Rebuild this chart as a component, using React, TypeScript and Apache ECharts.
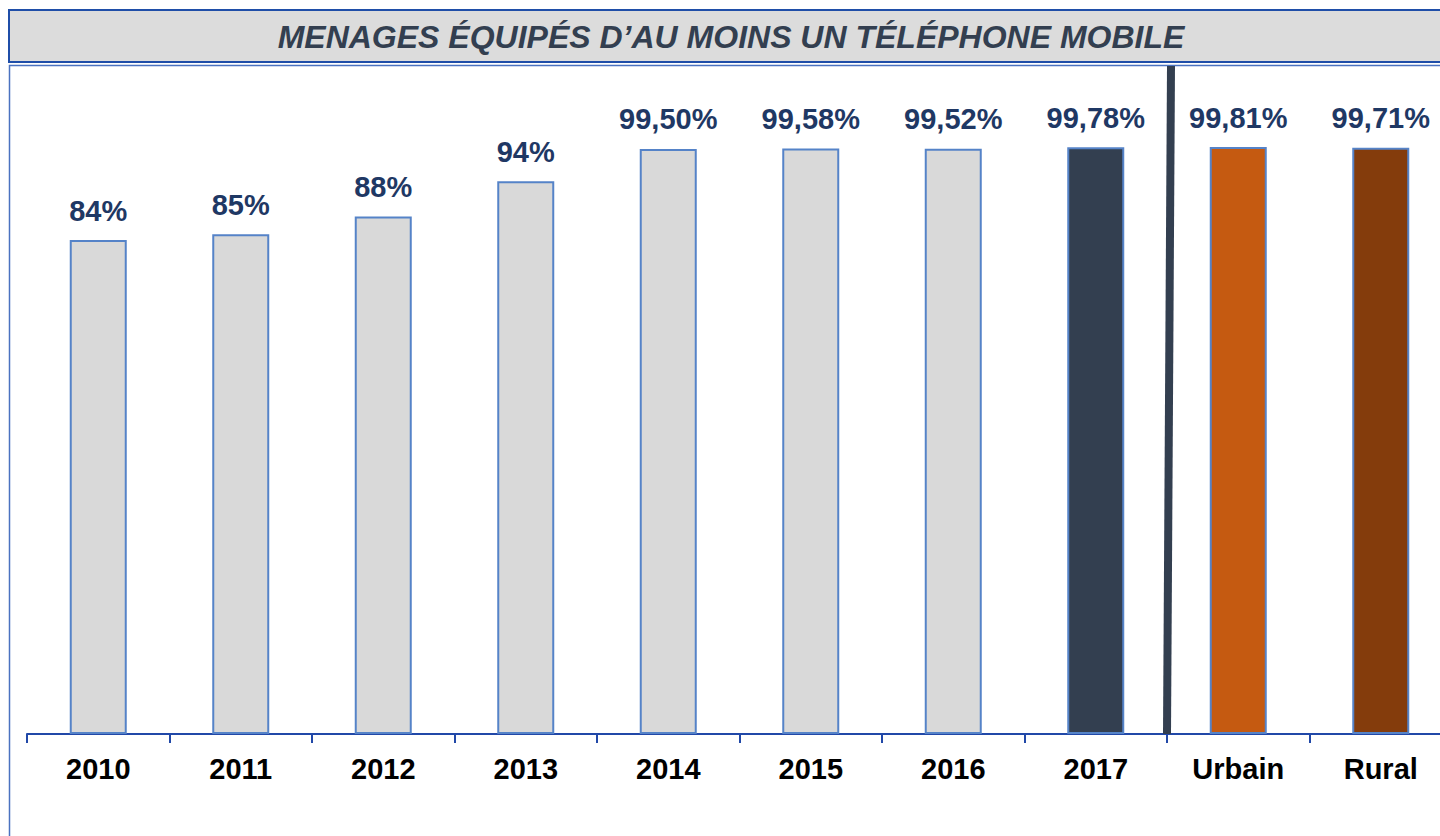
import React, { useEffect, useRef } from "react";
import * as echarts from "echarts";

const categories = ["2010", "2011", "2012", "2013", "2014", "2015", "2016", "2017", "Urbain", "Rural"];
const values = [84, 85, 88, 94, 99.5, 99.58, 99.52, 99.78, 99.81, 99.71];
const valueLabels = ["84%", "85%", "88%", "94%", "99,50%", "99,58%", "99,52%", "99,78%", "99,81%", "99,71%"];
const barColors = ["#d9d9d9", "#d9d9d9", "#d9d9d9", "#d9d9d9", "#d9d9d9", "#d9d9d9", "#d9d9d9", "#333f50", "#c55a11", "#843c0c"];
const titleText = "MENAGES ÉQUIPÉS D’AU MOINS UN TÉLÉPHONE MOBILE";

export default function App() {
  const ref = useRef<HTMLDivElement>(null);
  useEffect(() => {
    document.body.style.margin = "0";
    const chart = echarts.init(ref.current!, null, { renderer: "svg" });
    chart.setOption({
      animation: false,
      backgroundColor: "#ffffff",
      grid: { left: 27, top: 146, width: 1425, bottom: 102, containLabel: false },
      xAxis: {
        type: "category",
        data: categories,
        axisLine: { lineStyle: { color: "#2148a8", width: 2 } },
        axisTick: { show: true, length: 9, lineStyle: { color: "#2148a8", width: 2 } },
        axisLabel: {
          color: "#000000",
          fontFamily: "Liberation Sans, Arial, sans-serif",
          fontWeight: "bold",
          fontSize: 29,
          margin: 20,
        },
      },
      yAxis: { type: "value", min: 0, max: 100, show: false, splitLine: { show: false } },
      series: [
        {
          type: "bar",
          barWidth: "40%",
          data: values.map((v, i) => ({
            value: v,
            itemStyle: { color: barColors[i], borderColor: "#5583c8", borderWidth: 2 },
          })),
          label: {
            show: true,
            position: "top",
            distance: 15,
            color: "#1f3864",
            fontFamily: "Liberation Sans, Arial, sans-serif",
            fontWeight: "bold",
            fontSize: 29,
            formatter: (p: any) => valueLabels[p.dataIndex],
          },
        },
      ],
      graphic: [
        {
          type: "rect",
          shape: { x: 9, y: 10, width: 1500, height: 52 },
          style: { fill: "#dcdcdc", stroke: "#1f4ea8", lineWidth: 2 },
          z: 10,
        },
        {
          type: "rect",
          shape: { x: 9.5, y: 65.5, width: 1500, height: 800 },
          style: { fill: "none", stroke: "#4a72c0", lineWidth: 1.5 },
          z: 10,
        },
        {
          type: "text",
          x: 731,
          y: 37,
          style: {
            text: titleText,
            fill: "#333f50",
            font: "italic bold 32px 'Liberation Sans', Arial, sans-serif",
            textAlign: "center",
            textVerticalAlign: "middle",
          },
          z: 11,
        },
        {
          type: "line",
          shape: { x1: 1171, y1: 66, x2: 1167, y2: 734 },
          style: { stroke: "#333f50", lineWidth: 8 },
          z: 12,
        },
      ],
    });
    return () => chart.dispose();
  }, []);
  return (
    <div style={{ width: 1440, height: 836, overflow: "hidden", position: "relative" }}>
      <div ref={ref} style={{ width: 1470, height: 836 }} />
    </div>
  );
}
